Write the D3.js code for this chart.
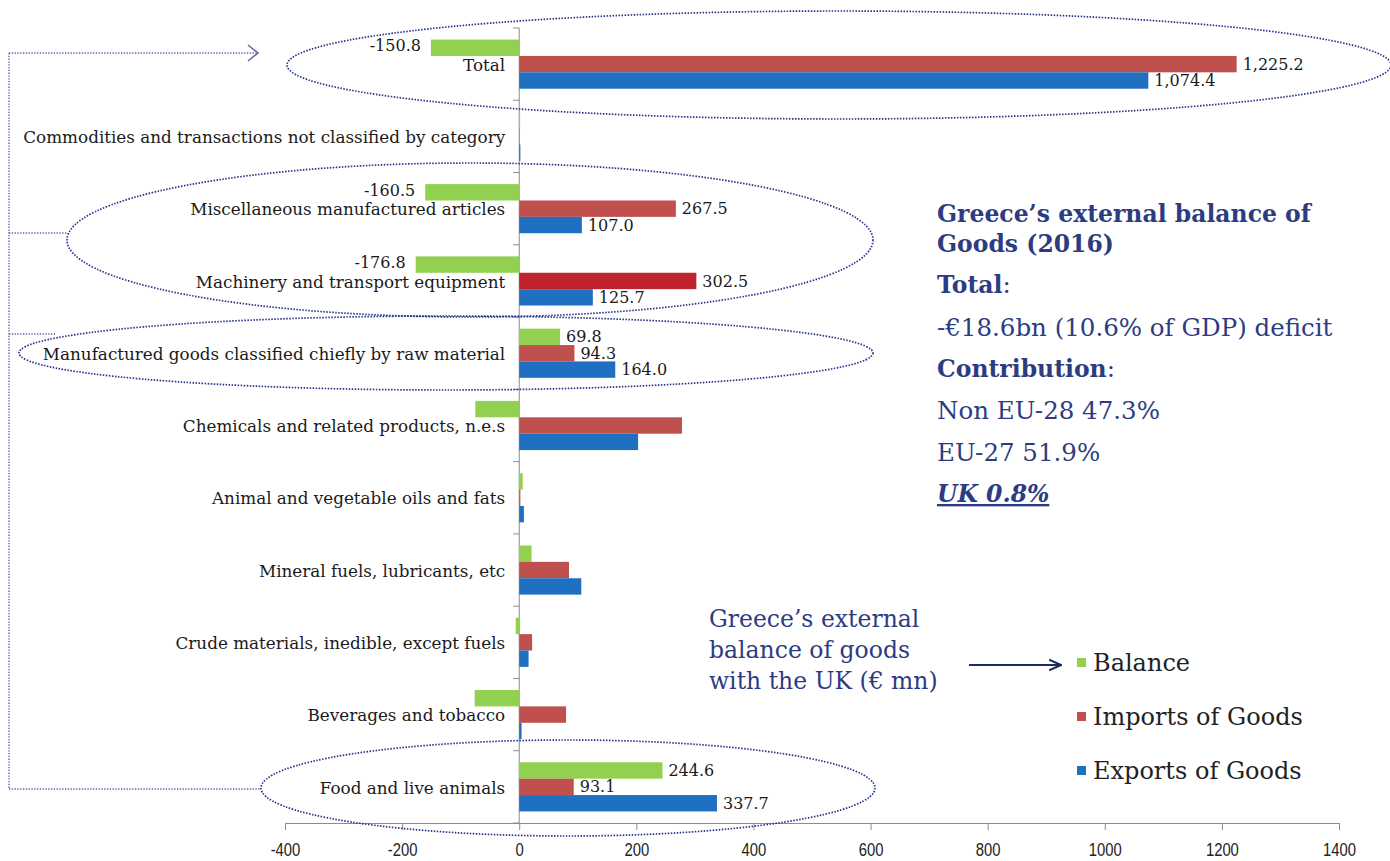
<!doctype html>
<html lang="en">
<head>
<meta charset="UTF-8">
<title>Greece external balance of goods with the UK</title>
<style>
  body { margin: 0; background: #fff; }
  svg { display: block; }
  .cat { font-family: "DejaVu Serif", serif; font-size: 16.8px; fill: #1a1a1a; }
  .val { font-family: "DejaVu Serif", serif; font-size: 16px; fill: #1a1a1a; }
  .tick text { font-family: "Liberation Sans", sans-serif; font-size: 19px; fill: #222; }
  .legend text { font-family: "DejaVu Serif", serif; font-size: 24px; fill: #222; }
  .note { font-family: "DejaVu Serif", serif; fill: #2d3c82; }
</style>
</head>
<body>
<svg id="chart" width="1390" height="861"></svg>
<script src="https://d3js.org/d3.v7.min.js"></script>
<script>
// categories, top to bottom
const categories = [
    "Total",
    "Commodities and transactions not classified by category",
    "Miscellaneous manufactured articles",
    "Machinery and transport equipment",
    "Manufactured goods classified chiefly by raw material",
    "Chemicals and related products, n.e.s",
    "Animal and vegetable oils and fats",
    "Mineral fuels, lubricants, etc",
    "Crude materials, inedible, except fuels",
    "Beverages and tobacco",
    "Food and live animals"
];
const seriesNames = ["Balance", "Imports of Goods", "Exports of Goods"];
const balance = [-150.8, 1.5, -160.5, -176.8, 69.8, -75, 6, 21, -6, -76, 244.6];
const imports = [1225.2, 0.5, 267.5, 302.5, 94.3, 278, 2, 85, 22, 80, 93.1];
const exports = [1074.4, 2.0, 107.0, 125.7, 164.0, 203, 8, 106, 16, 4, 337.7];
// categories that carry value labels
const labelled = ["Total", "Miscellaneous manufactured articles", "Machinery and transport equipment",
    "Manufactured goods classified chiefly by raw material", "Food and live animals"];
const xTicks = [-400, -200, 0, 200, 400, 600, 800, 1000, 1200, 1400];

const colors = {"Balance": "#92d050", "Imports of Goods": "#c0504d", "Exports of Goods": "#1f70c1"};
const highlightColor = "#c0232b";

// plain hyphen for negatives, like the original
const fmtVal = v => d3.format(",.1f")(v).replace("\u2212", "-");

let svg = d3.select("#chart");

let x = d3.scaleLinear().domain([-400, 1400]).range([285, 1339]);
let y0 = d3.scaleBand().domain(categories).range([28, 823])
    .paddingInner(0.32).paddingOuter(0.16);
let y1 = d3.scaleBand().domain(seriesNames).range([0, y0.bandwidth()]);

let rows = categories.map((c, i) => ({
    cat: c,
    values: [
        {s: "Balance", v: balance[i]},
        {s: "Imports of Goods", v: imports[i]},
        {s: "Exports of Goods", v: exports[i]}
    ]
}));

// x axis (narrow tick labels)
svg.append("g")
    .attr("transform", "translate(0,823)")
    .call(d3.axisBottom(x).tickValues(xTicks).tickSize(7).tickPadding(13).tickFormat(d => String(d)))
    .call(g => g.select(".domain").attr("stroke", "#8c8c8c"))
    .call(g => g.selectAll(".tick line").attr("stroke", "#8c8c8c"))
    .call(g => g.selectAll(".tick text").attr("transform", "scale(0.78,1)"));

// y axis line with ticks at band boundaries
svg.append("line")
    .attr("x1", x(0)).attr("x2", x(0))
    .attr("y1", y0.range()[0]).attr("y2", y0.range()[1])
    .attr("stroke", "#8c8c8c");
svg.selectAll(".ytick")
    .data(categories.concat(["__end"]))
    .enter().append("line")
    .attr("x1", x(0) - 6).attr("x2", x(0))
    .attr("y1", (d, i) => y0.range()[0] + i * y0.step())
    .attr("y2", (d, i) => y0.range()[0] + i * y0.step())
    .attr("stroke", "#8c8c8c");

// bars
let groups = svg.selectAll(".row")
    .data(rows)
    .enter().append("g")
    .attr("class", "row")
    .attr("transform", d => `translate(0,${y0(d.cat)})`);

groups.selectAll("rect")
    .data(d => d.values.map(v => Object.assign({cat: d.cat}, v)))
    .enter().append("rect")
    .attr("x", d => x(Math.min(0, d.v)))
    .attr("width", d => Math.abs(x(d.v) - x(0)))
    .attr("y", d => y1(d.s))
    .attr("height", y1.bandwidth())
    .attr("fill", d => (d.cat === "Machinery and transport equipment" && d.s === "Imports of Goods") ? highlightColor : colors[d.s]);

// value labels
groups.filter(d => labelled.includes(d.cat))
    .selectAll(".val")
    .data(d => d.values)
    .enter().append("text")
    .attr("class", "val")
    .attr("x", d => d.v < 0 ? x(d.v) - 10 : x(d.v) + 6)
    .attr("y", d => y1(d.s) + y1.bandwidth() / 2)
    .attr("dy", d => d.v < 0 ? "0.2em" : "0.35em")
    .attr("text-anchor", d => d.v < 0 ? "end" : "start")
    .text(d => fmtVal(d.v));

// category labels
svg.selectAll(".cat")
    .data(categories)
    .enter().append("text")
    .attr("class", "cat")
    .attr("x", x(0) - 14)
    .attr("y", d => y0(d) + y0.bandwidth() / 2)
    .attr("dy", "0.4em")
    .attr("text-anchor", "end")
    .text(d => d);

// dotted ellipses around highlighted groups
const ellipses = [
    {cx: 839, cy: 65, rx: 552, ry: 54},
    {cx: 470, cy: 240, rx: 403, ry: 77},
    {cx: 446, cy: 353, rx: 427, ry: 37},
    {cx: 568, cy: 788, rx: 307, ry: 48}
];
svg.selectAll(".ring")
    .data(ellipses)
    .enter().append("ellipse")
    .attr("cx", d => d.cx).attr("cy", d => d.cy)
    .attr("rx", d => d.rx).attr("ry", d => d.ry)
    .attr("fill", "none")
    .attr("stroke", "#26348a")
    .attr("stroke-width", 1.7)
    .attr("stroke-dasharray", "1.5 1.5");

// bracket on the left
let bracket = svg.append("g")
    .attr("fill", "none")
    .attr("stroke", "#5b5ea6")
    .attr("stroke-width", 1.4)
    .attr("stroke-dasharray", "1.3 1.5");
bracket.append("path").attr("d", "M9,53 V789");
bracket.append("path").attr("d", "M9,53 H257");
bracket.append("path").attr("d", "M9,233 H67");
bracket.append("path").attr("d", "M9,334 H55");
bracket.append("path").attr("d", "M9,789 H261");
svg.append("path")
    .attr("d", "M248,45 L258,53 L248,61")
    .attr("fill", "none")
    .attr("stroke", "#6a64aa")
    .attr("stroke-width", 1.6);

// summary text
const summary = [
    [{t: "Greece\u2019s external balance of", b: true}],
    [{t: "Goods (2016)", b: true}],
    [{t: "Total", b: true}, {t: ":"}],
    [{t: "-\u20ac18.6bn (10.6% of GDP) deficit"}],
    [{t: "Contribution", b: true}, {t: ":"}],
    [{t: "Non EU-28 47.3%"}],
    [{t: "EU-27 51.9%"}],
    [{t: "UK 0.8%", b: true, i: true, u: true}]
];
const summaryY = [222, 252, 293, 336, 377, 419, 461, 502];
let note = svg.append("g");
summary.forEach((line, i) => {
    let t = note.append("text")
        .attr("class", "note")
        .attr("x", 937)
        .attr("y", summaryY[i]);
    line.forEach(seg => {
        t.append("tspan")
            .text(seg.t)
            .style("font-size", seg.b ? "23.5px" : "24.5px")
            .style("font-weight", seg.b ? "bold" : "normal")
            .style("font-style", seg.i ? "italic" : "normal")
            .style("text-decoration", seg.u ? "underline" : "none");
    });
});

// caption with arrow
const caption = ["Greece\u2019s external", "balance of goods", "with the UK (\u20ac mn)"];
svg.append("g").selectAll("text")
    .data(caption)
    .enter().append("text")
    .attr("class", "note")
    .attr("x", 709)
    .attr("y", (d, i) => 627 + i * 31)
    .style("font-size", "23.5px")
    .text(d => d);

svg.append("defs").append("marker")
    .attr("id", "head")
    .attr("viewBox", "0 0 10 10")
    .attr("refX", 9).attr("refY", 5)
    .attr("markerWidth", 6).attr("markerHeight", 6)
    .attr("orient", "auto")
    .append("path")
    .attr("d", "M0,1 L9,5 L0,9")
    .attr("fill", "none")
    .attr("stroke", "#1f2a5e")
    .attr("stroke-width", 1.5);
svg.append("line")
    .attr("x1", 969).attr("x2", 1061)
    .attr("y1", 665).attr("y2", 665)
    .attr("stroke", "#1f2a5e")
    .attr("stroke-width", 2.2)
    .attr("marker-end", "url(#head)");

// legend
let legend = svg.append("g").attr("class", "legend")
    .selectAll("g")
    .data(seriesNames)
    .enter().append("g")
    .attr("transform", (d, i) => `translate(1077,${663 + i * 54})`);
legend.append("rect")
    .attr("x", 0).attr("y", -5)
    .attr("width", 9).attr("height", 9)
    .attr("fill", d => colors[d]);
legend.append("text")
    .attr("x", 16)
    .attr("dy", "0.35em")
    .text(d => d);
</script>
</body>
</html>
